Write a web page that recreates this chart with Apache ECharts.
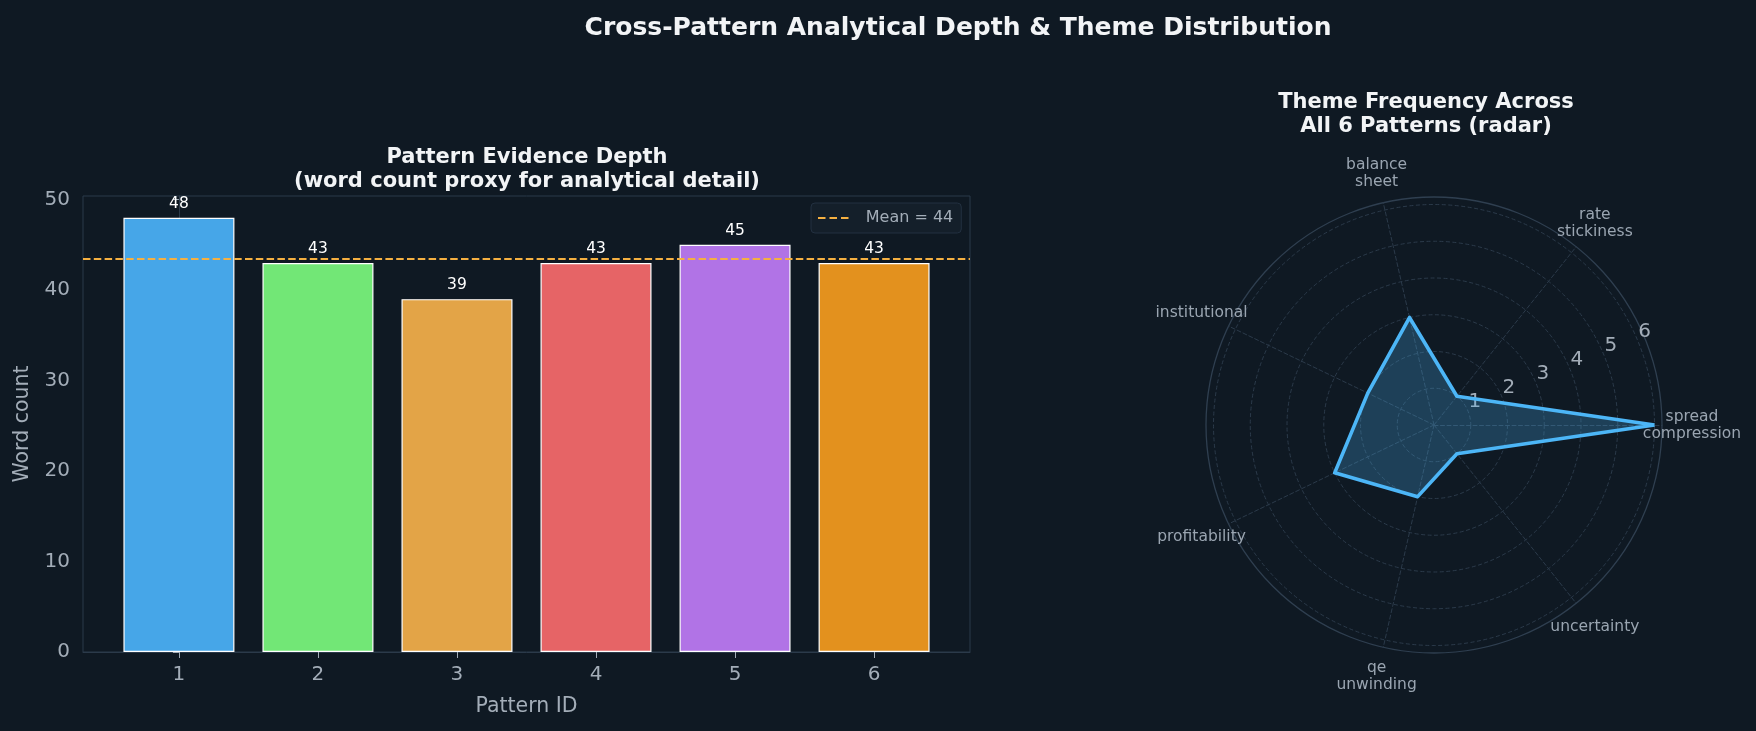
<!DOCTYPE html>
<html>
<head>
<meta charset="utf-8">
<script src="https://cdn.jsdelivr.net/npm/echarts@6/dist/echarts.min.js"></script>
<style>
  html, body { margin: 0; background: #0f1923; }
  #main { width: 1756px; height: 731px; }
</style>
</head>
<body>
<div id="main"></div>
<script>
// left panel: evidence depth per pattern
const patternIds = ['1', '2', '3', '4', '5', '6'];
const wordCounts = [48, 43, 39, 43, 45, 43];
const barColors = ['#46a6e8', '#72e776', '#e3a447', '#e66466', '#b173e6', '#e3911e'];
const yTicks = [0, 10, 20, 30, 40, 50];

// right panel: theme frequency (radar)
const themes = ['spread\ncompression', 'rate\nstickiness', 'balance\nsheet', 'institutional',
                'profitability', 'qe\nunwinding', 'uncertainty'];
const themeCounts = [6, 1, 3, 2, 3, 2, 1];
const radialTicks = [1, 2, 3, 4, 5, 6];

const FONT = 'DejaVu Sans';
const TXT = '#a3adb8';
const GRIDC = '#2b3a4a';
const radarCenter = [1434, 425];
const ringR = 220.5;   // radius of the "6" ring
const outerR = 228;    // polar frame

function getOption() {
  const meanCount = wordCounts.reduce((a, b) => a + b, 0) / wordCounts.length;
  const meanName = 'Mean = ' + Math.round(meanCount);
  const yMax = Math.max(...wordCounts) * 1.05;
  const idx = patternIds.map((_, i) => i);

  return {
    backgroundColor: '#0f1923',
    textStyle: { fontFamily: FONT },
    title: [
      {
        text: 'Cross-Pattern Analytical Depth & Theme Distribution',
        left: 953, top: 11, textAlign: 'center',
        textStyle: { color: '#f2f4f6', fontSize: 25, fontWeight: 'bold', fontFamily: FONT }
      },
      {
        text: 'Pattern Evidence Depth\n(word count proxy for analytical detail)',
        left: 522, top: 141, textAlign: 'center',
        textStyle: { color: '#f2f4f6', fontSize: 21, fontWeight: 'bold', lineHeight: 24, fontFamily: FONT }
      },
      {
        text: 'Theme Frequency Across\nAll 6 Patterns (radar)',
        left: 1421, top: 86, textAlign: 'center',
        textStyle: { color: '#f2f4f6', fontSize: 21, fontWeight: 'bold', lineHeight: 24, fontFamily: FONT }
      }
    ],
    legend: {
      data: [{ name: meanName, icon: 'path://M0,0H7.5V2H0Z M11.5,0H19V2H11.5Z M23,0H30.5V2H23Z' }],
      left: 811, top: 203,
      itemWidth: 31, itemHeight: 2,
      padding: [7, 8, 7, 7],
      backgroundColor: '#141f2a',
      borderColor: '#223040', borderWidth: 1, borderRadius: 4,
      textStyle: { color: TXT, fontSize: 16, fontFamily: FONT, padding: [0, 0, 0, 12] }
    },
    grid: {
      left: 83, top: 196, width: 887, height: 456,
      show: true, borderColor: GRIDC, borderWidth: 1, backgroundColor: 'transparent'
    },
    xAxis: {
      type: 'value', min: -0.69, max: 5.69,
      name: 'Pattern ID', nameLocation: 'middle', nameGap: 44,
      nameTextStyle: { color: TXT, fontSize: 20.5, fontFamily: FONT },
      axisLine: { lineStyle: { color: GRIDC } },
      axisTick: { customValues: idx, length: 6, lineStyle: { color: TXT } },
      axisLabel: {
        customValues: idx, color: TXT, fontSize: 20, margin: 13,
        formatter: v => patternIds[v]
      },
      splitLine: { show: false }
    },
    yAxis: {
      type: 'value', min: 0, max: yMax,
      name: 'Word count', nameLocation: 'middle', nameGap: 50,
      nameTextStyle: { color: TXT, fontSize: 20.5, fontFamily: FONT },
      axisLine: { show: true, lineStyle: { color: GRIDC } },
      axisTick: { show: true, customValues: yTicks, length: 6, lineStyle: { color: TXT } },
      axisLabel: { customValues: yTicks, color: TXT, fontSize: 20, margin: 13 },
      splitLine: { show: false }
    },
    radar: [
      {
        center: radarCenter, radius: ringR, startAngle: 0, shape: 'circle', splitNumber: 6,
        indicator: themes.map(name => ({ name, min: 0, max: 6 })),
        axisName: { show: false },
        axisLine: { show: false },
        splitLine: { lineStyle: { color: GRIDC, type: [4, 2.5], width: 1 } },
        splitArea: { show: false }
      },
      {
        center: radarCenter, radius: outerR, startAngle: 0, shape: 'circle', splitNumber: 1,
        indicator: themes.map(name => ({ name, min: 0, max: 6.2 })),
        nameGap: 30,
        axisName: {
          color: '#9aa5b1', fontSize: 15.5, align: 'center', verticalAlign: 'middle',
          lineHeight: 17, fontFamily: FONT
        },
        axisLine: { lineStyle: { color: GRIDC, type: [4, 2.5], width: 1 } },
        splitLine: { lineStyle: { color: '#2f3f50', width: 1.3 } },
        splitArea: { show: false }
      }
    ],
    // radial tick labels sit a little above the 22.5deg ray
    polar: { center: [radarCenter[0], radarCenter[1] - 9], radius: ringR },
    angleAxis: { type: 'value', min: 0, max: 360, startAngle: 22.5, show: false },
    radiusAxis: {
      type: 'value', min: 0, max: 6, interval: 1,
      axisLine: { show: false }, axisTick: { show: false }, splitLine: { show: false },
      axisLabel: {
        customValues: radialTicks, color: TXT, fontSize: 20, margin: 0,
        align: 'center', verticalAlign: 'middle', padding: [0, 0, 42, 14]
      }
    },
    series: [
      {
        type: 'bar',
        data: wordCounts.map((v, i) => ({ value: [i, v], itemStyle: { color: barColors[i] } })),
        barWidth: 111,
        itemStyle: { borderColor: '#ffffff', borderWidth: 1.2 },
        label: {
          show: true, position: 'top', distance: 6, color: '#ffffff', fontSize: 15.5,
          formatter: p => p.value[1]
        },
        markLine: {
          silent: true, symbol: ['none', 'none'],
          label: { show: false },
          lineStyle: { color: '#f5b041', type: [7.5, 3.3], width: 1.8 },
          data: [{ yAxis: meanCount }]
        }
      },
      {
        type: 'line', name: meanName, data: [], color: '#f5b041'
      },
      {
        type: 'radar', radarIndex: 0, symbol: 'none',
        lineStyle: { color: '#4db6f7', width: 3.6 },
        areaStyle: { color: '#4db6f7', opacity: 0.25 },
        data: [{ value: themeCounts }]
      }
    ]
  };
}

const chart = echarts.init(document.getElementById('main'));
chart.setOption(getOption());
</script>
</body>
</html>
